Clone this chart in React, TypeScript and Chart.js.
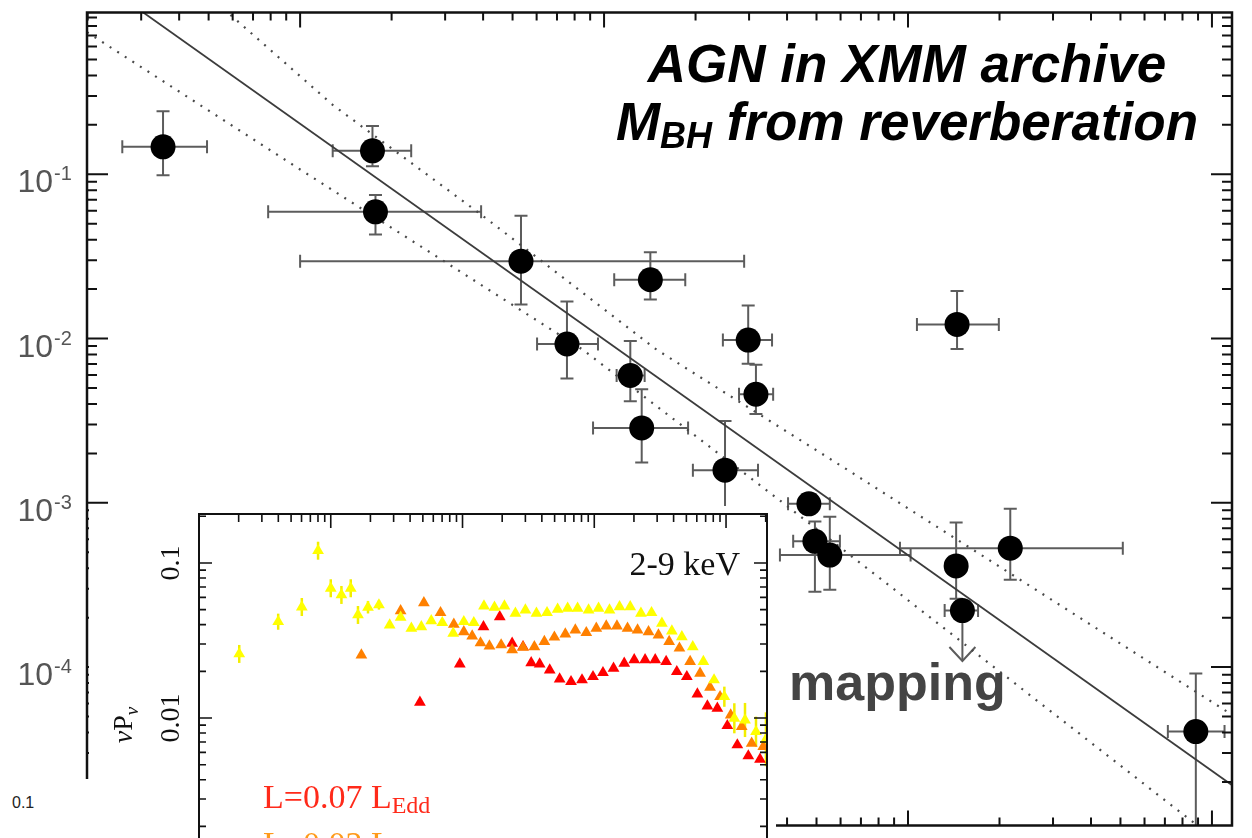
import React, { useEffect, useRef } from 'react';
import { Chart, registerables } from 'chart.js';

Chart.register(...registerables);

// ---------------- main panel: excess variance vs black-hole mass ----------------
const agnMass = [3.54e5, 1.73e6, 1.77e6, 5.33e6, 1.42e7, 7.55e6, 1.22e7, 1.33e7, 2.98e7, 3.16e7, 2.5e7, 1.45e8, 4.72e7, 4.94e7, 5.53e7, 1.44e8, 2.17e8, 8.85e8];
const agnMassLo = [2.6e5, 1.28e6, 7.85e5, 1.0e6, 1.08e7, 6.02e6, 1.1e7, 9.2e6, 2.46e7, 2.78e7, 1.96e7, 1.07e8, 4.03e7, 4.19e7, 3.79e7, 1.44e8, 9.41e7, 7.16e8];
const agnMassHi = [4.94e5, 2.32e6, 3.94e6, 2.89e7, 1.85e7, 9.55e6, 1.36e7, 1.89e7, 3.57e7, 3.6e7, 3.21e7, 1.99e8, 5.53e7, 5.97e7, 1.02e8, 1.44e8, 5.09e8, 1.1e9];
const agnVar = [0.147, 0.139, 0.0591, 0.0296, 0.0228, 0.00927, 0.00596, 0.00286, 0.00979, 0.00458, 0.00158, 0.0122, 0.000986, 0.000583, 0.000481, 0.000413, 0.00053, 4.05e-5];
const agnVarLo = [0.0986, 0.112, 0.043, 0.0161, 0.0173, 0.00571, 0.00416, 0.00176, 0.00703, 0.00347, 0.000883, 0.00865, 0.000859, 0.000288, 0.000296, 0.000261, 0.00034, 1.0e-5];
const agnVarHi = [0.242, 0.197, 0.0748, 0.056, 0.0335, 0.0168, 0.00966, 0.00491, 0.0159, 0.00694, 0.00315, 0.0195, 0.00113, 0.000769, 0.000824, 0.000759, 0.00092, 9.14e-5];

// upper limit
const ulMass = [1.51e8];
const ulMassLo = [1.32e8];
const ulMassHi = [1.7e8];
const ulVar = [2.21e-4];
const ulVarTo = [1.09e-4];

// best fit and scatter envelopes
const fitMass = [2.0e5, 1.2e9];
const fitVar = [1.68, 1.84e-5];
const upperBandMass = [5.06e5, 1.284e6, 3.91e6, 1.493e7, 6.35e7, 2.93e8, 1.087e9, 1.236e9];
const upperBandVar = [1.2, 0.2633, 0.0575, 0.00853, 0.00158, 2.61e-4, 5.56e-5, 4.78e-5];
const lowerBandMass = [1.99e5, 1.0e6, 8.53e6, 3.88e7, 8.93e8, 9.84e8];
const lowerBandVar = [0.733, 0.107, 0.00853, 1.0e-3, 1.09e-5, 9.46e-6];

const mainYTicks = [1e-4, 1e-3, 1e-2, 1e-1];
const mainYTickBase = ['10', '10', '10', '10'];
const mainYTickExp = ['-4', '-3', '-2', '-1'];
const massMin = 1.99e5;
const massMax = 1.164e9;
const varMin = 1.086e-5;
const varMax = 0.966;

// ---------------- inset: power spectra ----------------
const yellowFreq = [2.02e-5, 3.99e-5, 6.03e-5, 8.01e-5, 1.0e-4, 1.205e-4, 1.418e-4, 1.609e-4, 1.917e-4, 2.322e-4, 2.8e-4, 3.39e-4, 4.09e-4, 4.87e-4, 5.79e-4, 7.02e-4, 8.5e-4, 1.023e-3, 1.218e-3, 1.455e-3, 1.748e-3, 2.08e-3, 2.52e-3, 3.0e-3, 3.64e-3, 4.38e-3, 5.27e-3, 6.28e-3, 7.47e-3, 9.05e-3, 1.078e-2, 1.305e-2, 1.555e-2, 1.874e-2, 2.26e-2, 2.72e-2, 3.26e-2, 3.88e-2, 4.62e-2, 5.59e-2, 6.73e-2, 8.11e-2, 9.71e-2, 0.1156, 0.1393, 0.1688, 0.2009];
const yellowPow = [0.0259, 0.0418, 0.052, 0.12, 0.0687, 0.0622, 0.0687, 0.0462, 0.0518, 0.0536, 0.0398, 0.0446, 0.0379, 0.0388, 0.0424, 0.0412, 0.0352, 0.0418, 0.0412, 0.0528, 0.0518, 0.0528, 0.0474, 0.0497, 0.0474, 0.0478, 0.0503, 0.051, 0.051, 0.0497, 0.051, 0.0497, 0.0522, 0.0522, 0.0474, 0.0478, 0.0408, 0.0364, 0.0334, 0.0288, 0.0231, 0.0176, 0.01372, 0.00996, 0.00971, 0.00816, 0.00729];
const yellowErrDex = [0.058, 0.052, 0.058, 0.058, 0.058, 0.058, 0.058, 0.058, 0.04, 0.03, 0, 0, 0, 0, 0, 0, 0, 0, 0, 0, 0, 0, 0, 0, 0, 0, 0, 0, 0, 0, 0, 0, 0, 0, 0, 0, 0, 0, 0, 0, 0, 0, 0.065, 0.097, 0.11, 0.097, 0.174];

const orangeFreq = [1.708e-4, 3.39e-4, 5.09e-4, 6.81e-4, 8.59e-4, 1.023e-3, 1.184e-3, 1.369e-3, 1.601e-3, 1.964e-3, 2.38e-3, 2.88e-3, 3.51e-3, 4.18e-3, 4.98e-3, 6.03e-3, 7.18e-3, 8.7e-3, 1.036e-2, 1.233e-2, 1.486e-2, 1.788e-2, 2.13e-2, 2.58e-2, 3.07e-2, 3.7e-2, 4.43e-2, 5.34e-2, 6.35e-2, 7.56e-2, 9.01e-2, 0.1085, 0.1315, 0.1565, 0.1916];
const orangePow = [0.0255, 0.0492, 0.0554, 0.0478, 0.0402, 0.036, 0.0338, 0.0305, 0.0291, 0.0296, 0.0275, 0.0286, 0.0288, 0.0311, 0.0332, 0.0348, 0.0369, 0.0355, 0.0379, 0.0392, 0.0392, 0.0379, 0.0369, 0.036, 0.0343, 0.0311, 0.0282, 0.0231, 0.0194, 0.01578, 0.01372, 0.01046, 0.00879, 0.00687, 0.00653];

const redFreq = [4.75e-4, 9.54e-4, 1.442e-3, 1.917e-3, 2.38e-3, 2.88e-3, 3.32e-3, 3.85e-3, 4.59e-3, 5.46e-3, 6.66e-3, 8.07e-3, 9.78e-3, 1.164e-2, 1.4e-2, 1.688e-2, 2.01e-2, 2.43e-2, 2.9e-2, 3.51e-2, 4.23e-2, 5.04e-2, 6.06e-2, 7.22e-2, 8.59e-2, 0.1023, 0.1218, 0.1476, 0.181];
const redPow = [0.01263, 0.0223, 0.0388, 0.045, 0.0303, 0.0288, 0.0227, 0.0223, 0.0204, 0.01785, 0.01715, 0.0176, 0.01847, 0.0196, 0.0209, 0.0225, 0.0237, 0.0237, 0.0237, 0.0231, 0.0199, 0.01847, 0.01428, 0.01195, 0.01155, 0.00892, 0.0067, 0.00569, 0.00541];

const insetPowTicks = [0.1, 0.01];
const insetPowTickLabels = ['0.1', '0.01'];
const freqMin = 1e-5;
const freqMax = 0.2046;
const powMin = 7.11e-4;
const powMax = 0.207;

const SANS = '"Liberation Sans", Arial, Helvetica, sans-serif';
const SERIF = '"Liberation Serif", "Times New Roman", serif';

const toXY = (xs: number[], ys: number[]) => xs.map((x, i) => ({ x, y: ys[i] }));

function drawFrameTicks(chart: any, xLen: number[], yLen: number[], lw: number) {
  const { ctx, chartArea, scales } = chart;
  const { left, right, top, bottom } = chartArea;
  const x = scales.x;
  const y = scales.y;
  ctx.save();
  ctx.strokeStyle = '#111';
  ctx.lineWidth = lw;
  ctx.strokeRect(left, top, right - left, bottom - top);
  ctx.lineWidth = lw * 0.8;
  const eachLog = (scale: any, cb: (p: number, major: boolean) => void) => {
    const lo = Math.floor(Math.log10(scale.min));
    const hi = Math.ceil(Math.log10(scale.max));
    for (let d = lo; d <= hi; d++) {
      for (let m = 1; m <= 9; m++) {
        const v = m * Math.pow(10, d);
        if (v < scale.min || v > scale.max) continue;
        cb(scale.getPixelForValue(v), m === 1);
      }
    }
  };
  ctx.beginPath();
  eachLog(x, (p, major) => {
    const l = major ? xLen[0] : xLen[1];
    ctx.moveTo(p, top);
    ctx.lineTo(p, top + l);
    ctx.moveTo(p, bottom);
    ctx.lineTo(p, bottom - l);
  });
  eachLog(y, (p, major) => {
    const l = major ? yLen[0] : yLen[1];
    ctx.moveTo(left, p);
    ctx.lineTo(left + l, p);
    ctx.moveTo(right, p);
    ctx.lineTo(right - l, p);
  });
  ctx.stroke();
  ctx.restore();
}

const mainFramePlugin = {
  id: 'mainFrame',
  afterDraw(chart: any) {
    drawFrameTicks(chart, [15, 8], [21, 10], 2.5);
    const { ctx, chartArea, scales } = chart;
    ctx.save();
    ctx.fillStyle = '#555';
    ctx.textBaseline = 'alphabetic';
    mainYTicks.forEach((v, i) => {
      const py = scales.y.getPixelForValue(v);
      const baseRight = chartArea.left - 34;
      ctx.font = `32px ${SANS}`;
      ctx.textAlign = 'right';
      ctx.fillText(mainYTickBase[i], baseRight, py + 18);
      ctx.font = `20px ${SANS}`;
      ctx.textAlign = 'left';
      ctx.fillText(mainYTickExp[i], baseRight + 1, py + 6);
    });
    ctx.restore();
  },
};

const mainErrorPlugin = {
  id: 'mainErr',
  beforeDatasetsDraw(chart: any) {
    const { ctx, chartArea, scales } = chart;
    const x = scales.x;
    const y = scales.y;
    ctx.save();
    ctx.beginPath();
    ctx.rect(chartArea.left, chartArea.top, chartArea.right - chartArea.left, chartArea.bottom - chartArea.top);
    ctx.clip();
    ctx.strokeStyle = '#5c5c5c';
    ctx.lineWidth = 2;
    const cap = 6.5;
    const seg = (x1: number, y1: number, x2: number, y2: number) => {
      ctx.beginPath();
      ctx.moveTo(x1, y1);
      ctx.lineTo(x2, y2);
      ctx.stroke();
    };
    agnMass.forEach((m, i) => {
      const px = x.getPixelForValue(m);
      const py = y.getPixelForValue(agnVar[i]);
      const xl = x.getPixelForValue(agnMassLo[i]);
      const xh = x.getPixelForValue(agnMassHi[i]);
      const yl = y.getPixelForValue(agnVarLo[i]);
      const yh = y.getPixelForValue(agnVarHi[i]);
      if (xh - xl > 1) {
        seg(xl, py, xh, py);
        seg(xl, py - cap, xl, py + cap);
        seg(xh, py - cap, xh, py + cap);
      }
      if (yl - yh > 1) {
        seg(px, yl, px, yh);
        seg(px - cap, yl, px + cap, yl);
        seg(px - cap, yh, px + cap, yh);
      }
    });
    ulMass.forEach((m, i) => {
      const px = x.getPixelForValue(m);
      const py = y.getPixelForValue(ulVar[i]);
      const xl = x.getPixelForValue(ulMassLo[i]);
      const xh = x.getPixelForValue(ulMassHi[i]);
      const tip = y.getPixelForValue(ulVarTo[i]);
      seg(xl, py, xh, py);
      seg(xl, py - cap, xl, py + cap);
      seg(xh, py - cap, xh, py + cap);
      seg(px, py, px, tip);
      ctx.beginPath();
      ctx.moveTo(px - 13, tip - 14);
      ctx.lineTo(px, tip);
      ctx.lineTo(px + 13, tip - 14);
      ctx.stroke();
    });
    ctx.restore();
  },
};

const insetFramePlugin = {
  id: 'insetFrame',
  afterDraw(chart: any) {
    drawFrameTicks(chart, [14, 8], [13, 7], 2);
  },
};

const insetErrorPlugin = {
  id: 'insetErr',
  beforeDatasetsDraw(chart: any) {
    const { ctx, chartArea, scales } = chart;
    ctx.save();
    ctx.beginPath();
    ctx.rect(chartArea.left, chartArea.top, chartArea.right - chartArea.left, chartArea.bottom - chartArea.top);
    ctx.clip();
    ctx.strokeStyle = '#f2ee00';
    ctx.lineWidth = 2.5;
    yellowFreq.forEach((f, i) => {
      const e = yellowErrDex[i];
      if (!e) return;
      const px = scales.x.getPixelForValue(f);
      const y1 = scales.y.getPixelForValue(yellowPow[i] * Math.pow(10, e));
      const y2 = scales.y.getPixelForValue(yellowPow[i] / Math.pow(10, e));
      ctx.beginPath();
      ctx.moveTo(px, y1);
      ctx.lineTo(px, y2);
      ctx.stroke();
    });
    ctx.restore();
  },
};

function drawSubText(ctx: any, main: string, sub: string, x: number, y: number, color: string, size: number) {
  ctx.fillStyle = color;
  ctx.textAlign = 'left';
  ctx.textBaseline = 'alphabetic';
  ctx.font = `${size}px ${SERIF}`;
  ctx.fillText(main, x, y);
  const w = ctx.measureText(main).width;
  ctx.font = `${Math.round(size * 0.7)}px ${SERIF}`;
  ctx.fillText(sub, x + w, y + size * 0.16);
}

const insetTextPlugin = {
  id: 'insetText',
  afterDraw(chart: any) {
    const { ctx, chartArea, scales } = chart;
    ctx.save();
    ctx.fillStyle = '#111';
    ctx.font = `28px ${SERIF}`;
    ctx.textAlign = 'center';
    ctx.textBaseline = 'middle';
    insetPowTicks.forEach((v, i) => {
      const py = scales.y.getPixelForValue(v);
      ctx.save();
      ctx.translate(chartArea.left - 27, py);
      ctx.rotate(-Math.PI / 2);
      ctx.fillText(insetPowTickLabels[i], 0, 0);
      ctx.restore();
    });
    // axis title  νP_ν
    ctx.save();
    ctx.translate(34, 219);
    ctx.rotate(-Math.PI / 2);
    ctx.textAlign = 'left';
    ctx.textBaseline = 'alphabetic';
    const f1 = `italic 28px ${SERIF}`;
    const f2 = `28px ${SERIF}`;
    const f3 = `italic 19px ${SERIF}`;
    ctx.font = f1;
    const w1 = ctx.measureText('ν').width;
    ctx.font = f2;
    const w2 = ctx.measureText('P').width;
    ctx.font = f3;
    const w3 = ctx.measureText('ν').width;
    let sx = -(w1 + w2 + w3) / 2;
    ctx.fillStyle = '#111';
    ctx.font = f1;
    ctx.fillText('ν', sx, 9);
    sx += w1;
    ctx.font = f2;
    ctx.fillText('P', sx, 9);
    sx += w2;
    ctx.font = f3;
    ctx.fillText('ν', sx, 15);
    ctx.restore();

    ctx.fillStyle = '#111';
    ctx.font = `34px ${SERIF}`;
    ctx.textAlign = 'right';
    ctx.textBaseline = 'alphabetic';
    ctx.fillText('2-9 keV', chartArea.right - 27, chartArea.top + 61);

    drawSubText(ctx, 'L=0.07 L', 'Edd', chartArea.left + 64, chartArea.top + 294, '#ff2a1a', 34);
    drawSubText(ctx, 'L=0.02 L', 'Edd', chartArea.left + 64, chartArea.top + 341, '#ff9a1a', 34);
    ctx.restore();
  },
};

export default function App() {
  const mainRef = useRef<HTMLCanvasElement>(null);
  const insetRef = useRef<HTMLCanvasElement>(null);

  useEffect(() => {
    const main = new Chart(mainRef.current as HTMLCanvasElement, {
      type: 'scatter',
      data: {
        datasets: [
          {
            data: toXY(agnMass, agnVar),
            pointRadius: 12.5,
            pointHoverRadius: 12.5,
            backgroundColor: '#000',
            borderWidth: 0,
          },
          {
            data: toXY(ulMass, ulVar),
            pointRadius: 12.5,
            pointHoverRadius: 12.5,
            backgroundColor: '#000',
            borderWidth: 0,
          },
          {
            data: toXY(fitMass, fitVar),
            showLine: true,
            pointRadius: 0,
            borderColor: '#3c3c3c',
            borderWidth: 1.8,
            clip: 0,
          },
          {
            data: toXY(upperBandMass, upperBandVar),
            showLine: true,
            pointRadius: 0,
            borderColor: '#4a4a4a',
            borderWidth: 2.2,
            borderDash: [2, 7],
            clip: 0,
          },
          {
            data: toXY(lowerBandMass, lowerBandVar),
            showLine: true,
            pointRadius: 0,
            borderColor: '#4a4a4a',
            borderWidth: 2.2,
            borderDash: [2, 7],
            clip: 0,
          },
        ],
      } as any,
      options: {
        animation: false,
        responsive: false,
        layout: { padding: { top: 6, right: 20, bottom: 8, left: 87 } },
        plugins: { legend: { display: false }, tooltip: { enabled: false } },
        events: [],
        scales: {
          x: { type: 'logarithmic', min: massMin, max: massMax, display: false },
          y: { type: 'logarithmic', min: varMin, max: varMax, display: false },
        },
      } as any,
      plugins: [mainErrorPlugin, mainFramePlugin],
    });

    const inset = new Chart(insetRef.current as HTMLCanvasElement, {
      type: 'scatter',
      data: {
        datasets: [
          {
            data: toXY(yellowFreq, yellowPow),
            pointStyle: 'triangle',
            pointRadius: 6.8,
            backgroundColor: '#ffff00',
            borderWidth: 0,
          },
          {
            data: toXY(orangeFreq, orangePow),
            pointStyle: 'triangle',
            pointRadius: 6.8,
            backgroundColor: '#ff8000',
            borderWidth: 0,
          },
          {
            data: toXY(redFreq, redPow),
            pointStyle: 'triangle',
            pointRadius: 6.8,
            backgroundColor: '#ff0000',
            borderWidth: 0,
          },
        ],
      } as any,
      options: {
        animation: false,
        responsive: false,
        layout: { padding: { top: 8, right: 9, bottom: 10, left: 110 } },
        plugins: { legend: { display: false }, tooltip: { enabled: false } },
        events: [],
        scales: {
          x: { type: 'logarithmic', min: freqMin, max: freqMax, display: false },
          y: { type: 'logarithmic', min: powMin, max: powMax, display: false },
        },
      } as any,
      plugins: [insetErrorPlugin, insetFramePlugin, insetTextPlugin],
    });

    return () => {
      main.destroy();
      inset.destroy();
    };
  }, []);

  return (
    <div
      style={{
        position: 'fixed',
        left: 0,
        top: 0,
        width: 1252,
        height: 838,
        overflow: 'hidden',
        background: '#fff',
      }}
    >
      <canvas
        ref={mainRef}
        width={1252}
        height={838}
        style={{ position: 'absolute', left: 0, top: 0, width: 1252, height: 838 }}
      />
      <div
        style={{
          position: 'absolute',
          left: 557,
          top: 35,
          width: 700,
          textAlign: 'center',
          fontFamily: SANS,
          fontWeight: 'bold',
          fontStyle: 'italic',
          fontSize: 53,
          lineHeight: '58px',
          color: '#000',
          whiteSpace: 'nowrap',
        }}
      >
        AGN in XMM archive
        <br />
        M
        <span style={{ fontSize: 36, position: 'relative', top: 8 }}>BH</span> from reverberation
      </div>
      <div
        style={{
          position: 'absolute',
          left: 789,
          top: 653,
          fontFamily: SANS,
          fontWeight: 'bold',
          fontSize: 52,
          lineHeight: '58px',
          color: '#444',
          whiteSpace: 'nowrap',
        }}
      >
        mapping
      </div>
      <div
        style={{
          position: 'absolute',
          left: 89,
          top: 506,
          width: 687,
          height: 400,
          background: '#fff',
        }}
      >
        <canvas
          ref={insetRef}
          width={687}
          height={400}
          style={{ position: 'absolute', left: 0, top: 0, width: 687, height: 400 }}
        />
      </div>
      <div
        style={{
          position: 'absolute',
          left: 0,
          top: 779,
          width: 89,
          height: 59,
          background: '#fff',
        }}
      >
        <span
          style={{
            position: 'absolute',
            left: 12,
            top: 15,
            fontFamily: SANS,
            fontSize: 16,
            color: '#222',
          }}
        >
          0.1
        </span>
      </div>
    </div>
  );
}
